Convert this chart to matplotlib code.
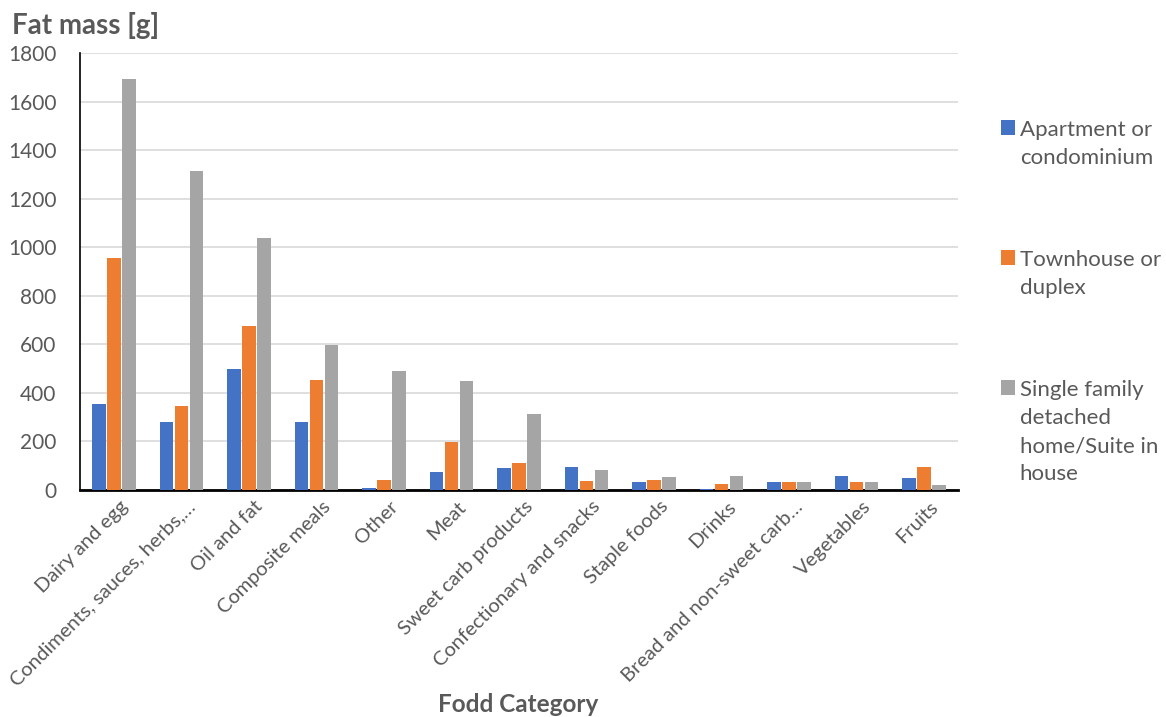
import matplotlib.pyplot as plt
import matplotlib.transforms as mtransforms
import numpy as np

plt.rcParams['font.family'] = ['Lato', 'DejaVu Sans']

categories = ['Dairy and egg', 'Condiments, sauces, herbs,…', 'Oil and fat',
              'Composite meals', 'Other', 'Meat', 'Sweet carb products',
              'Confectionary and snacks', 'Staple foods', 'Drinks',
              'Bread and non-sweet carb…', 'Vegetables', 'Fruits']
apartment = [355, 282, 499, 280, 10, 73, 89, 94, 31, 5, 33, 58, 49]
townhouse = [954, 347, 674, 455, 42, 197, 113, 39, 41, 24, 31, 31, 96]
single_family = [1695, 1316, 1040, 597, 492, 451, 315, 82, 53, 58, 31, 33, 21]
series_names = ['Apartment or\ncondominium', 'Townhouse or\nduplex',
                'Single family\ndetached\nhome/Suite in\nhouse']
colors = ['#4472C4', '#ED7D31', '#A5A5A5']

txt = '#595959'
fig = plt.figure(figsize=(11.66, 7.17), dpi=100)
ax = fig.add_axes([0.0686, 0.3166, 0.7530, 0.6094])

x = np.arange(len(categories))
w = 0.2
step = 0.222
for i, (vals, name, c) in enumerate(zip([apartment, townhouse, single_family], series_names, colors)):
    ax.bar(x + (i - 1) * step, vals, width=w, color=c, label=name, zorder=3)

ax.set_xlim(-0.5, len(categories) - 0.5)
ax.set_ylim(0, 1800)
ax.set_yticks(np.arange(0, 1801, 200))
ax.grid(axis='y', color='#D9D9D9', linewidth=1.2, zorder=0)
ax.tick_params(axis='both', length=0, labelsize=15, colors=txt)
ax.tick_params(axis='y', pad=17)
ax.tick_params(axis='x', pad=10, labelsize=14.5)
ax.set_xticks(x)
ax.set_xticklabels(categories, rotation=45, ha='right', va='center', rotation_mode='anchor')
# nudge the slanted labels to the right so they end just past their tick
shift = mtransforms.ScaledTranslation(8 / 72, 0, fig.dpi_scale_trans)
for lab in ax.get_xticklabels():
    lab.set_transform(lab.get_transform() + shift)

for s in ['top', 'right']:
    ax.spines[s].set_visible(False)
ax.spines['left'].set_color('black')
ax.spines['left'].set_linewidth(1.2)
ax.spines['bottom'].set_color('black')
ax.spines['bottom'].set_linewidth(2)

fig.text(0.010, 0.965, 'Fat mass [g]', fontsize=20, fontweight='bold', color=txt, va='center')
fig.text(0.444, 0.018, 'Fodd Category', fontsize=17.5, fontweight='bold', color=txt, ha='center', va='center')

leg = ax.legend(loc='center left', bbox_to_anchor=(1.026, 0.43), frameon=False,
                fontsize=16, labelcolor=txt, handlelength=0.65, handleheight=0.65,
                handletextpad=0.2, labelspacing=3.7)
for t in leg.get_texts():
    t.set_linespacing(1.5)
# put each legend square level with the first line of its label
for row in leg._legend_handle_box.get_children()[0].get_children():
    row.align = 'top'

fig.savefig('out.png', dpi=100)
